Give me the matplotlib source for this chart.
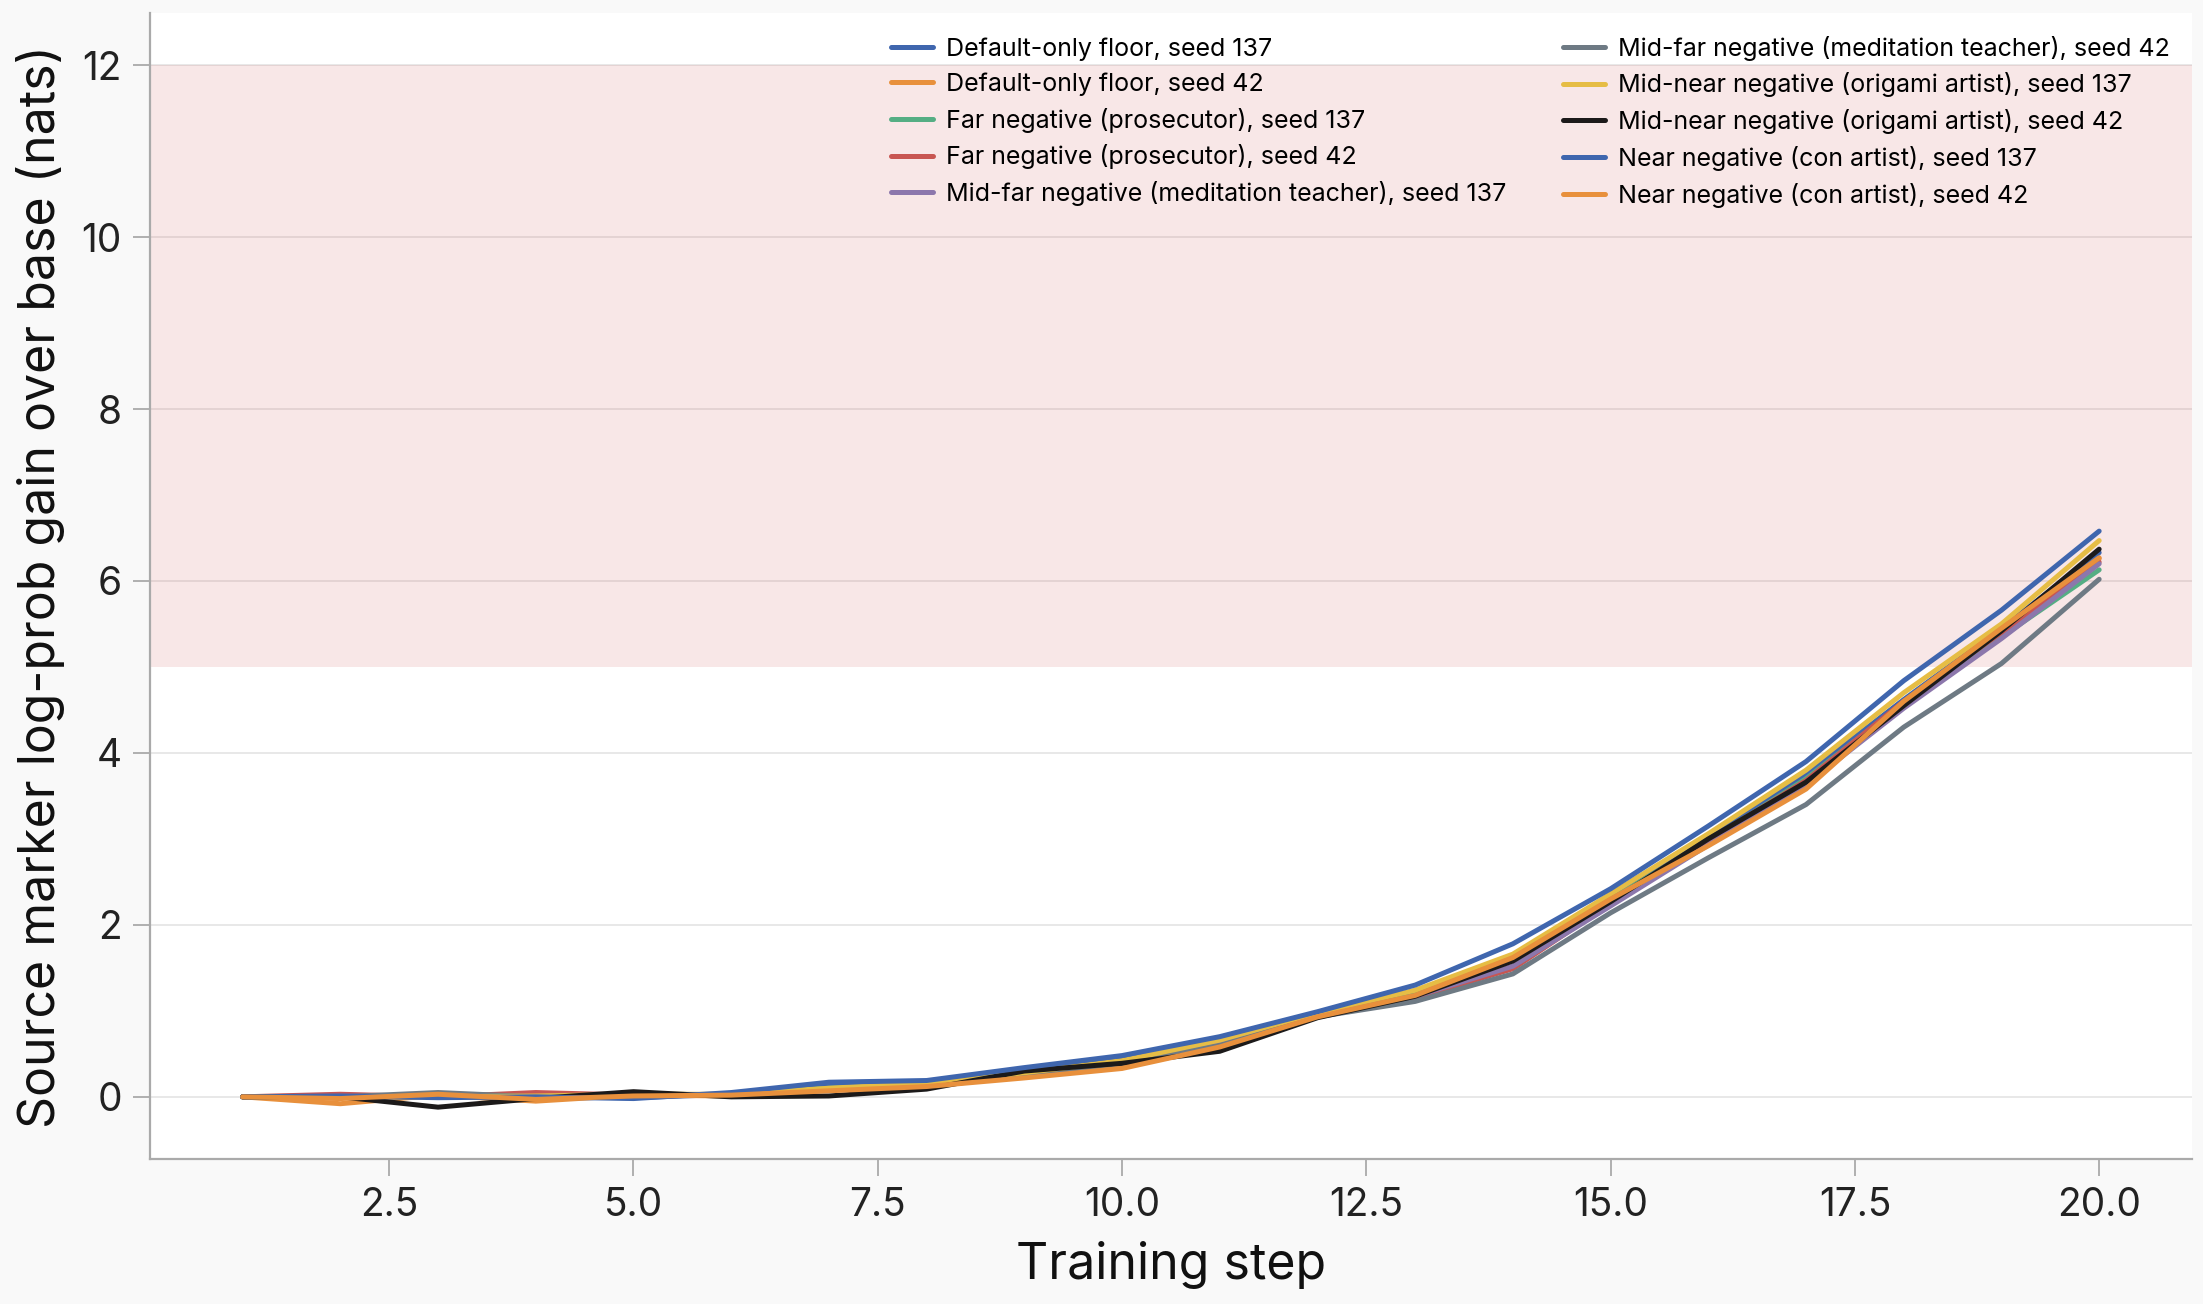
import numpy as np
import matplotlib
matplotlib.use("Agg")
import matplotlib.pyplot as plt

plt.rcParams["font.family"] = ["Inter", "DejaVu Sans"]

steps = list(range(1, 21))

# source marker log-prob gain over base (nats)
default_137 = [0, 0.00, 0.01, 0.00, -0.01, 0.03, 0.12, 0.16, 0.29, 0.43, 0.63, 0.96, 1.20, 1.64, 2.33, 3.02, 3.75, 4.62, 5.45, 6.33]
default_42 = [0, -0.08, 0.02, -0.05, 0.02, 0.01, 0.08, 0.12, 0.24, 0.35, 0.60, 0.95, 1.17, 1.60, 2.26, 2.95, 3.62, 4.55, 5.38, 6.26]
far_137 = [0, 0.00, 0.02, 0.00, 0.02, 0.02, 0.10, 0.14, 0.27, 0.41, 0.63, 0.95, 1.20, 1.60, 2.30, 2.97, 3.70, 4.58, 5.35, 6.13]
far_42 = [0, 0.03, 0.00, 0.05, 0.02, 0.02, 0.08, 0.13, 0.26, 0.40, 0.60, 0.93, 1.15, 1.49, 2.25, 2.98, 3.68, 4.60, 5.40, 6.22]
midfar_137 = [0, 0.00, 0.01, 0.00, 0.02, 0.03, 0.09, 0.14, 0.27, 0.40, 0.62, 0.94, 1.17, 1.52, 2.22, 2.93, 3.63, 4.52, 5.33, 6.20]
midfar_42 = [0, 0.00, 0.05, 0.00, 0.02, 0.02, 0.09, 0.13, 0.26, 0.39, 0.60, 0.93, 1.11, 1.43, 2.14, 2.78, 3.40, 4.30, 5.04, 6.02]
midnear_137 = [0, 0.00, 0.00, 0.01, 0.03, 0.03, 0.10, 0.16, 0.28, 0.42, 0.66, 0.98, 1.24, 1.66, 2.36, 3.06, 3.80, 4.70, 5.50, 6.47]
midnear_42 = [0, 0.00, -0.12, -0.02, 0.06, 0.00, 0.01, 0.09, 0.30, 0.39, 0.53, 0.92, 1.17, 1.58, 2.27, 3.00, 3.66, 4.55, 5.42, 6.37]
near_137 = [0, 0.01, -0.01, 0.00, -0.02, 0.05, 0.17, 0.19, 0.34, 0.48, 0.70, 0.99, 1.30, 1.78, 2.42, 3.15, 3.90, 4.84, 5.66, 6.58]
near_42 = [0, -0.02, 0.03, -0.03, 0.01, 0.02, 0.07, 0.12, 0.22, 0.33, 0.58, 0.93, 1.18, 1.62, 2.30, 2.92, 3.58, 4.60, 5.45, 6.27]

labels = [
    "Default-only floor, seed 137",
    "Default-only floor, seed 42",
    "Far negative (prosecutor), seed 137",
    "Far negative (prosecutor), seed 42",
    "Mid-far negative (meditation teacher), seed 137",
    "Mid-far negative (meditation teacher), seed 42",
    "Mid-near negative (origami artist), seed 137",
    "Mid-near negative (origami artist), seed 42",
    "Near negative (con artist), seed 137",
    "Near negative (con artist), seed 42",
]
series = [default_137, default_42, far_137, far_42, midfar_137,
          midfar_42, midnear_137, midnear_42, near_137, near_42]
colors = ["#3f66ae", "#e8903c", "#55ae84", "#c85652", "#8c77ac",
          "#6e7a84", "#e6bd45", "#1c1a1a", "#3f66ae", "#e8903c"]

shade_lo, shade_hi = 5, 12

fig = plt.figure(figsize=(22.03, 13.04), dpi=100, facecolor="#f9f9f9")
ax = fig.add_axes([0.068, 0.111, 0.927, 0.879])
ax.set_facecolor("white")

ax.grid(True, axis="y", color="#e6e6e6", lw=1.3, zorder=0.5)
ax.set_axisbelow(True)
ax.axhspan(shade_lo, shade_hi, color="#d46a6a", alpha=0.16, lw=0, zorder=1)

for ys, c, lab in zip(series, colors, labels):
    ax.plot(steps, ys, color=c, lw=3.6, label=lab, zorder=2, solid_capstyle="round")

for s in ["top", "right"]:
    ax.spines[s].set_visible(False)
for s in ["left", "bottom"]:
    ax.spines[s].set_color("#aaaaaa")
    ax.spines[s].set_linewidth(1.6)

ax.set_xticks([2.5, 5.0, 7.5, 10.0, 12.5, 15.0, 17.5, 20.0])
ax.set_yticks([0, 2, 4, 6, 8, 10, 12])
ax.tick_params(axis="both", labelsize=28, colors="#aaaaaa", labelcolor="#222222",
               width=1.3, length=12, pad=8)
ax.set_xlabel("Training step", fontsize=36, color="#111111", labelpad=12)
ax.set_ylabel("Source marker log-prob gain over base (nats)", fontsize=36, color="#111111", labelpad=12)

ax.legend(loc="upper right", ncol=2, frameon=False, fontsize=18,
          handlelength=1.7, handletextpad=0.5, columnspacing=2.25,
          labelspacing=0.47, bbox_to_anchor=(1.0, 1.0))

fig.savefig("out.png", dpi=100, facecolor=fig.get_facecolor())
